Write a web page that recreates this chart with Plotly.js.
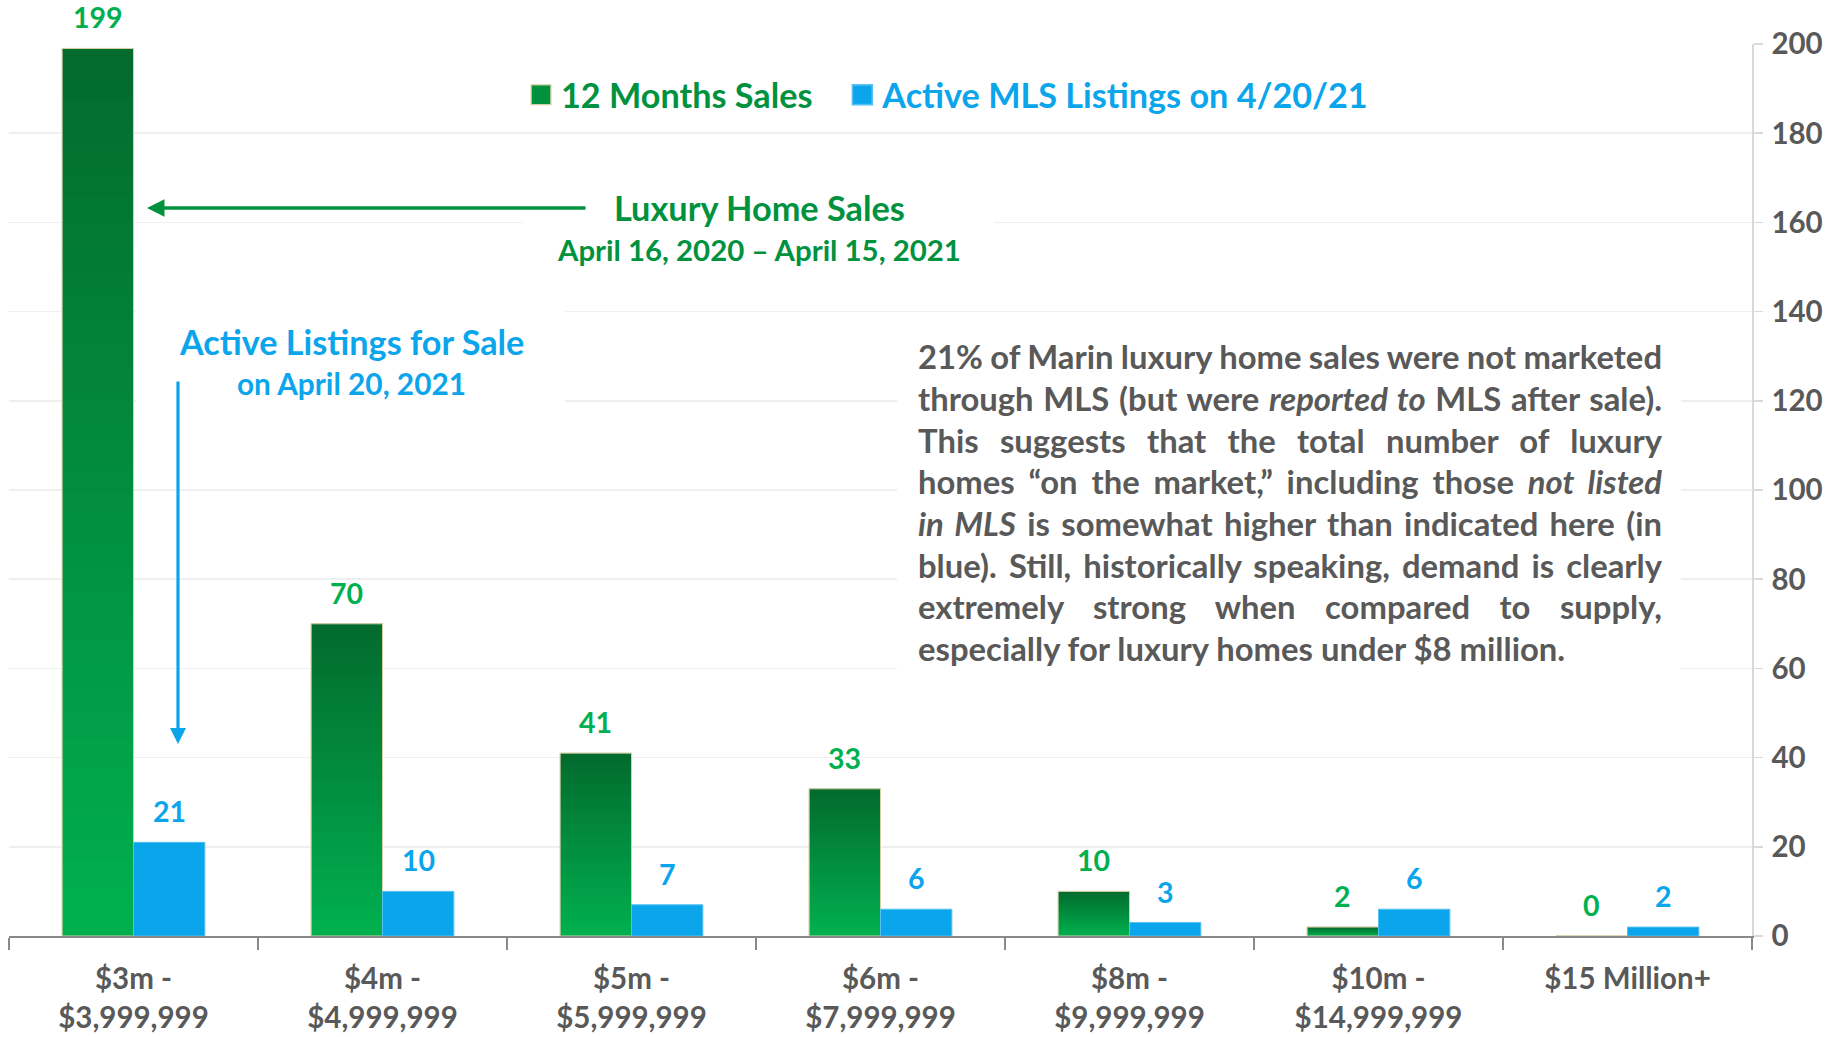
<!DOCTYPE html>
<html>
<head>
<meta charset="utf-8">
<script src="https://cdn.plot.ly/plotly-3.0.1.min.js"></script>
<style>
  html, body { margin: 0; padding: 0; background: #ffffff; }
  #chart { width: 1835px; height: 1037px; }
</style>
</head>
<body>
<div id="chart"></div>
<script>
// ---------------- DATA ----------------
const categories = [
  '$3m -<br>$3,999,999',
  '$4m -<br>$4,999,999',
  '$5m -<br>$5,999,999',
  '$6m -<br>$7,999,999',
  '$8m -<br>$9,999,999',
  '$10m -<br>$14,999,999',
  '$15 Million+'
];
const sales12Months = [199, 70, 41, 33, 10, 2, 0];
const activeListings = [21, 10, 7, 6, 3, 6, 2];
const yTickValues = [0, 20, 40, 60, 80, 100, 120, 140, 160, 180, 200];

const salesName = '12 Months Sales';
const listingsName = 'Active MLS Listings on 4/20/21';
const salesTitle = 'Luxury Home Sales';
const salesPeriod = 'April 16, 2020 – April 15, 2021';
const listingsTitle = 'Active Listings for Sale';
const listingsDate = 'on April 20, 2021';
const noteLines = [
  '21% of Marin luxury home sales were not marketed',
  'through MLS (but were <i>reported to</i> MLS after sale).',
  'This suggests that the total number of luxury',
  'homes “on the market,” including those <i>not listed</i>',
  '<i>in MLS</i> is somewhat higher than indicated here (in',
  'blue). Still, historically speaking, demand is clearly',
  'extremely strong when compared to supply,',
  'especially for luxury homes under $8 million.'
];

// ---------------- STYLE / GEOMETRY ----------------
const FONT = 'Lato, "Open Sans", "DejaVu Sans", sans-serif';
const GREEN_TEXT = '#00923F';
const GREEN_LABEL = '#00B050';
const BLUE = '#0BA5EC';
const GREY = '#595959';
const GREEN_TOP = [3, 107, 46];
const GREEN_BOTTOM = [0, 178, 80];

const L = 9, R = 1752, T = 44, B = 936;
const px = x => (x - L) / (R - L);             // pixel -> paper x
const py = y => (B - y) / (B - T);             // pixel -> paper y
const xc = x => (x - L) / (R - L) * categories.length - 0.5; // pixel -> category coord
const yc = y => 200 * (B - y) / (B - T);       // pixel -> data y

function mix(f) {
  const c = GREEN_BOTTOM.map((b, i) => Math.round(b + (GREEN_TOP[i] - b) * f));
  return 'rgb(' + c.join(',') + ')';
}

// ---------------- TRACES ----------------
const traces = [];
traces.push({
  type: 'bar',
  name: '<span style="color:' + GREEN_TEXT + '">' + salesName + '\u00A0\u00A0\u00A0</span>',
  x: categories, y: sales12Months, offsetgroup: 'sales',
  marker: { color: '#00913D', line: { color: '#D6D0A8', width: 0.8 } },
  hoverinfo: 'x+y'
});
// gradient layers (nested bars) giving the vertical dark-to-bright gradient look
const N = 36;
for (let k = 0; k < N; k++) {
  const frac = (N - k) / N;
  traces.push({
    type: 'bar', showlegend: false, hoverinfo: 'skip',
    x: categories, y: sales12Months.map(v => v * frac), offsetgroup: 'sales',
    marker: { color: mix(frac), line: { width: 0 } }
  });
}
traces.push({
  type: 'bar', showlegend: false, hoverinfo: 'skip',
  x: categories, y: sales12Months, offsetgroup: 'sales',
  marker: { color: 'rgba(0,0,0,0)', line: { color: '#D6D0A8', width: 1 } }
});
traces.push({
  type: 'bar', name: '<span style="color:' + BLUE + '">' + listingsName + '</span>',
  x: categories, y: activeListings, offsetgroup: 'listings',
  marker: { color: BLUE, line: { color: '#55C0F2', width: 1 } },
  hoverinfo: 'x+y'
});

// ---------------- ANNOTATIONS ----------------
const annotations = [];
const boldFont = (size, color) => ({ family: FONT, size: size, color: color, weight: 700 });

annotations.push({ xref: 'paper', yref: 'paper', x: px(759), y: py(208), text: salesTitle,
  showarrow: false, xanchor: 'center', yanchor: 'middle', font: boldFont(34.3, GREEN_TEXT) });
annotations.push({ xref: 'paper', yref: 'paper', x: px(759), y: py(249), text: salesPeriod,
  showarrow: false, xanchor: 'center', yanchor: 'middle', font: boldFont(29.4, GREEN_TEXT) });
annotations.push({ xref: 'paper', yref: 'paper', x: px(351), y: py(341), text: listingsTitle,
  showarrow: false, xanchor: 'center', yanchor: 'middle', font: boldFont(34.2, BLUE) });
annotations.push({ xref: 'paper', yref: 'paper', x: px(351), y: py(383), text: listingsDate,
  showarrow: false, xanchor: 'center', yanchor: 'middle', font: boldFont(29.8, BLUE) });

const noteStart = annotations.length;
noteLines.forEach((line, i) => {
  annotations.push({ xref: 'paper', yref: 'paper', x: px(916), y: py(357 + 41.6 * i), text: line,
    showarrow: false, xanchor: 'left', yanchor: 'middle', align: 'left', font: boldFont(32.8, GREY) });
});

// arrows
annotations.push({ xref: 'paper', yref: 'paper', x: px(147), y: py(208), text: '',
  showarrow: true, ax: 440, ay: 0, axref: 'pixel', ayref: 'pixel',
  arrowcolor: GREEN_TEXT, arrowwidth: 3.5, arrowhead: 2, arrowsize: 1, standoff: 0 });
annotations.push({ xref: 'paper', yref: 'paper', x: px(178), y: py(744), text: '',
  showarrow: true, ax: 0, ay: -364, axref: 'pixel', ayref: 'pixel',
  arrowcolor: BLUE, arrowwidth: 3.2, arrowhead: 2, arrowsize: 1, standoff: 0 });

// data labels
const BARGAP = 0.427;
const halfBar = ((R - L) / categories.length) * (1 - BARGAP) / 4;
categories.forEach((c, i) => {
  annotations.push({ xref: 'x', yref: 'y', x: c, y: sales12Months[i], text: String(sales12Months[i]),
    showarrow: false, xanchor: 'center', yanchor: 'bottom', xshift: -halfBar, yshift: 12,
    font: boldFont(28.5, GREEN_LABEL) });
  annotations.push({ xref: 'x', yref: 'y', x: c, y: activeListings[i], text: String(activeListings[i]),
    showarrow: false, xanchor: 'center', yanchor: 'bottom', xshift: halfBar, yshift: 12,
    font: boldFont(28.5, BLUE) });
});

// white text-box backgrounds hiding gridlines
const box = (x0, y0, x1, y1) => ({ type: 'rect', xref: 'x', yref: 'y', layer: 'between',
  x0: xc(x0), x1: xc(x1), y0: yc(y0), y1: yc(y1), fillcolor: '#ffffff', line: { width: 0 } });
const shapes = [box(523, 170, 994, 268), box(136, 296, 565, 420), box(897, 330, 1681, 690)];

// ---------------- LAYOUT ----------------
const layout = {
  width: 1835, height: 1037,
  margin: { l: L, r: 1835 - R, t: T, b: 1037 - B, pad: 0 },
  paper_bgcolor: '#ffffff', plot_bgcolor: '#ffffff',
  font: { family: FONT, color: GREY },
  barmode: 'group', bargap: BARGAP, bargroupgap: 0,
  showlegend: true,
  legend: {
    orientation: 'h', x: px(521), y: py(95), xanchor: 'left', yanchor: 'middle',
    bgcolor: 'rgba(0,0,0,0)', font: boldFont(34.2, GREY), traceorder: 'normal'
  },
  xaxis: {
    type: 'category', categoryorder: 'array', categoryarray: categories,
    showline: true, linecolor: '#898989', linewidth: 2,
    ticks: 'outside', tickson: 'boundaries', ticklen: 12, tickcolor: '#898989', tickwidth: 1.5,
    showgrid: false, zeroline: false,
    tickfont: boldFont(29.5, GREY), ticklabelstandoff: 16, fixedrange: true
  },
  yaxis: {
    side: 'right', range: [0, 200], tickvals: yTickValues, ticktext: yTickValues.map(String),
    showline: true, linecolor: '#D9D9D9', linewidth: 1.5,
    ticks: 'outside', ticklen: 9, tickcolor: '#D9D9D9', tickwidth: 1.5,
    showgrid: true, gridcolor: '#EFEFEF', gridwidth: 1.5, zeroline: false,
    tickfont: boldFont(29.5, GREY), ticklabelstandoff: 3, fixedrange: true
  },
  annotations: annotations,
  shapes: shapes
};

Plotly.newPlot('chart', traces, layout, { displayModeBar: false, staticPlot: true }).then(() => {
  // justify the paragraph lines (all but the last)
  const target = 1660 - 916;
  document.querySelectorAll('g.annotation').forEach(g => {
    const idx = +g.getAttribute('data-index');
    if (idx >= noteStart && idx < noteStart + noteLines.length - 1) {
      const t = g.querySelector('text.annotation-text');
      if (!t) return;
      const len = t.getComputedTextLength();
      const spaces = (t.textContent.match(/ /g) || []).length;
      if (spaces > 0) {
        t.style.wordSpacing = ((target - len) / spaces) + 'px';
      }
    }
  });
  // enlarge legend swatches to match the reference
  document.querySelectorAll('.legendpoints path').forEach(p => {
    const tr = p.getAttribute('transform') || '';
    p.setAttribute('transform', tr + ' scale(1.65)');
  });
});
</script>
</body>
</html>
